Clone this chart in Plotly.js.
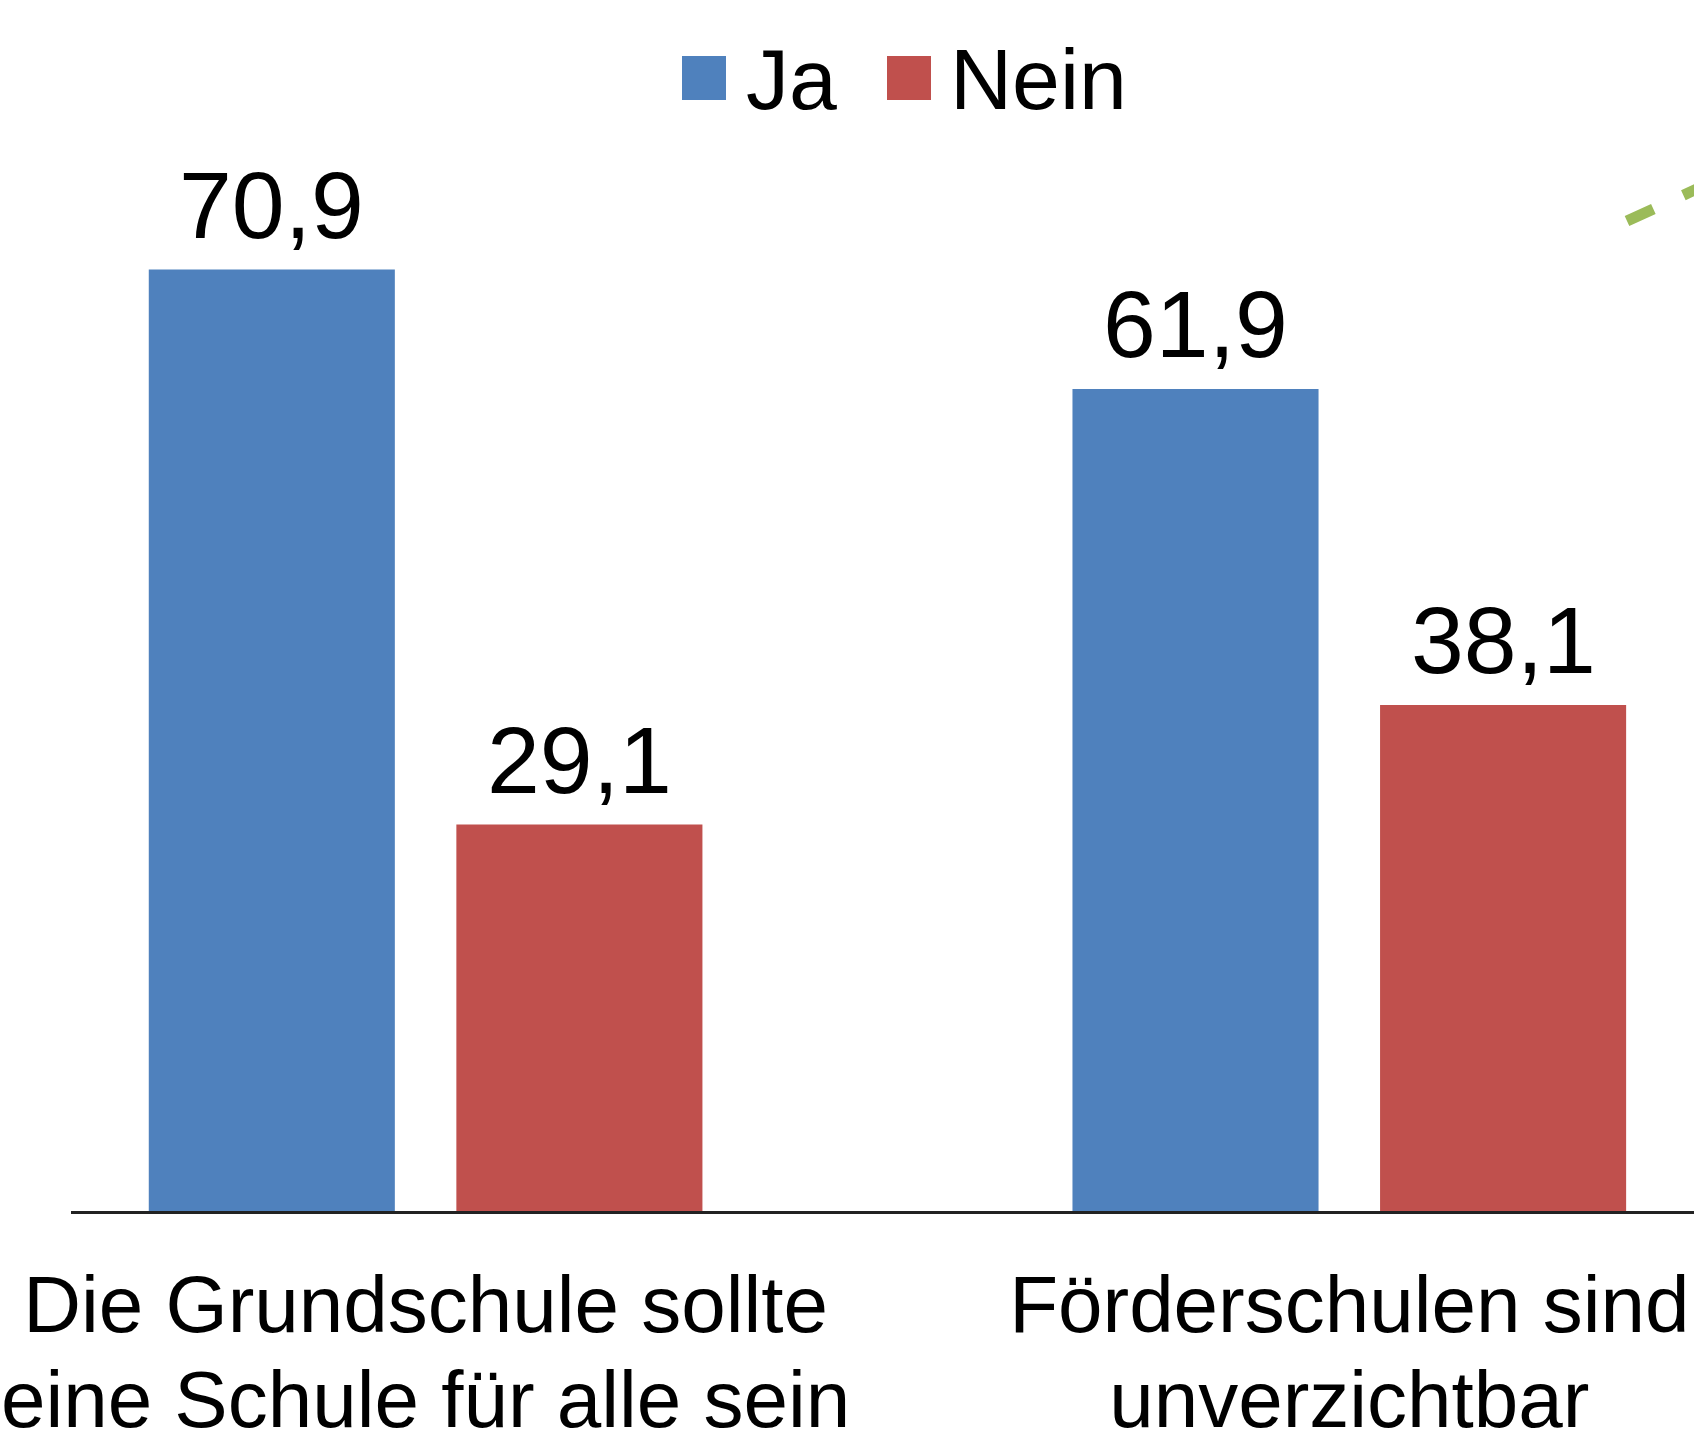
<!DOCTYPE html>
<html>
<head>
<meta charset="utf-8">
<script src="https://cdn.plot.ly/plotly-3.0.1.min.js"></script>
<style>html,body{margin:0;padding:0;background:#fff;}#chart{width:1694px;height:1439px;}</style>
</head>
<body>
<div id="chart"></div>
<script>
// ---- data ----
var categories = ["Die Grundschule sollte eine Schule für alle sein", "Förderschulen sind unverzichtbar"];
var tickLine1 = ["Die Grundschule sollte", "Förderschulen sind"];
var tickLine2 = ["eine Schule für alle sein", "unverzichtbar"];
var seriesNames = ["Ja", "Nein"];
var jaValues = [70.9, 61.9];
var neinValues = [29.1, 38.1];
var seriesColors = ["#4F81BD", "#C0504D"];

// ---- layout helpers (pixel -> paper) ----
var W = 1694, H = 1439, ML = 71, MR = 0, MT = 0, MB = 228;
var PW = W - ML - MR, PH = H - MT - MB;
function px(p) { return (p - ML) / PW; }
function py(p) { return (H - MB - p) / PH; }

var FONT = "Liberation Sans, Arial, sans-serif";
var idx = categories.map(function (_, i) { return i; });
var BARGAP = 0.334, GROUPGAP = 0.2;
var slotHalf = (1 - BARGAP) / 4;
function fmt(v) { return v.toFixed(1).replace(".", ","); }

var traces = [
  { type: "bar", name: seriesNames[0], x: idx, y: jaValues,
    marker: { color: seriesColors[0] }, hoverinfo: "none" },
  { type: "bar", name: seriesNames[1], x: idx, y: neinValues,
    marker: { color: seriesColors[1] }, hoverinfo: "none" },
  // invisible helper so the second tick-label row axis gets drawn
  { type: "scatter", x: idx, y: jaValues, xaxis: "x2", yaxis: "y", mode: "markers",
    marker: { opacity: 0, size: 1 }, hoverinfo: "skip", showlegend: false }
];

var valueAnnotations = [];
[jaValues, neinValues].forEach(function (vals, s) {
  vals.forEach(function (v, i) {
    valueAnnotations.push({
      xref: "x", yref: "y", x: i + (s === 0 ? -slotHalf : slotHalf), y: v,
      xanchor: "center", yanchor: "bottom", yshift: 10, showarrow: false,
      text: fmt(v), font: { family: FONT, size: 95, color: "#000" }
    });
  });
});

var xr = [(ML - 425.6) / 923.7, (W - 425.6) / 923.7];

var layout = {
  width: W, height: H,
  margin: { l: ML, r: MR, t: MT, b: MB, pad: 0 },
  paper_bgcolor: "#fff", plot_bgcolor: "#fff",
  showlegend: false,
  barmode: "group", bargap: BARGAP, bargroupgap: GROUPGAP,
  font: { family: FONT, color: "#000" },
  xaxis: {
    type: "linear", range: xr, tickmode: "array", tickvals: idx, ticktext: tickLine1,
    showgrid: false, zeroline: false, showline: true, linecolor: "#222", linewidth: 3,
    ticks: "", tickfont: { family: FONT, size: 80, color: "#000" },
    ticklabelstandoff: 22, fixedrange: true
  },
  xaxis2: {
    type: "linear", range: xr, overlaying: "x", anchor: "y", side: "bottom",
    tickmode: "array", tickvals: idx, ticktext: tickLine2,
    showgrid: false, zeroline: false, showline: false, ticks: "",
    tickfont: { family: FONT, size: 80, color: "#000" },
    ticklabelstandoff: 135, fixedrange: true
  },
  yaxis: { range: [0, 91.2], visible: false, fixedrange: true },
  shapes: [
    { type: "rect", xref: "paper", yref: "paper", x0: px(682), x1: px(726), y0: py(100), y1: py(56),
      fillcolor: seriesColors[0], line: { width: 0 } },
    { type: "rect", xref: "paper", yref: "paper", x0: px(887), x1: px(931), y0: py(100), y1: py(56),
      fillcolor: seriesColors[1], line: { width: 0 } },
    { type: "line", xref: "paper", yref: "paper", x0: px(1627), y0: py(221), x1: px(1760), y1: py(160),
      line: { color: "#9BBB59", width: 11, dash: "29px,33px" } }
  ],
  annotations: valueAnnotations.concat([
    { xref: "paper", yref: "paper", x: px(744), y: py(78.5), xanchor: "left", yanchor: "middle",
      text: seriesNames[0], showarrow: false, font: { family: FONT, size: 86, color: "#000" } },
    { xref: "paper", yref: "paper", x: px(948), y: py(78.5), xanchor: "left", yanchor: "middle",
      text: seriesNames[1], showarrow: false, font: { family: FONT, size: 86, color: "#000" } }
  ])
};

Plotly.newPlot("chart", traces, layout, { displayModeBar: false, staticPlot: true });
</script>
</body>
</html>
